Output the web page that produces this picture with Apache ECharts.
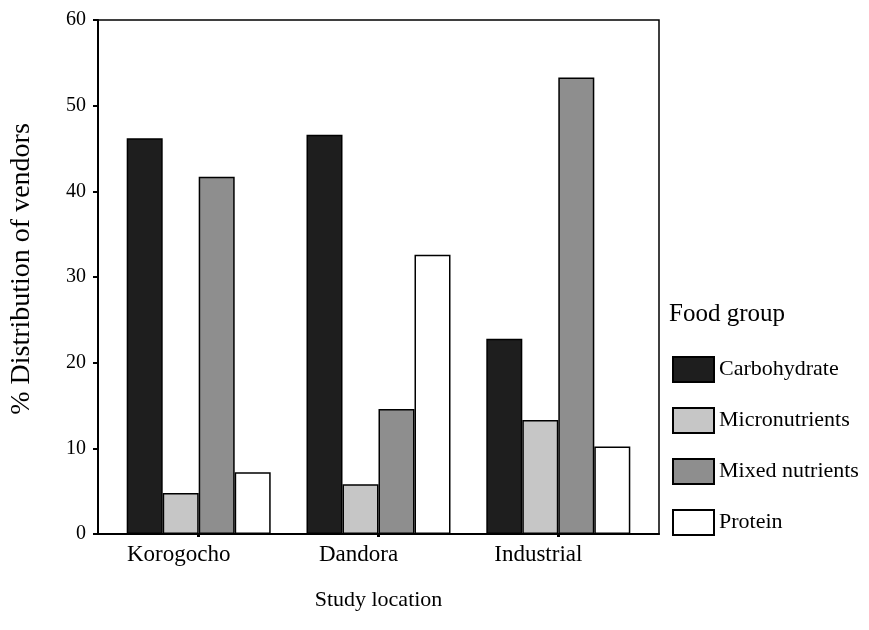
<!DOCTYPE html>
<html>
<head>
<meta charset="utf-8">
<script src="https://cdn.jsdelivr.net/npm/echarts@6/dist/echarts.min.js"></script>
<style>
  html, body { margin: 0; padding: 0; background: #fff; }
  #chart { width: 869px; height: 630px; }
</style>
</head>
<body>
<div id="chart"></div>
<script>
// 数据
var locations = ['Korogocho', 'Dandora', 'Industrial'];
var groupNames = ['Carbohydrate', 'Micronutrients', 'Mixed nutrients', 'Protein'];
var carbohydrate = [46.2, 46.6, 22.8];
var micronutrients = [4.8, 5.8, 13.3];
var mixedNutrients = [41.7, 14.6, 53.3];
var protein = [7.2, 32.6, 10.2];
var yTicks = [0, 10, 20, 30, 40, 50, 60];
var fills = ['#1e1e1e', '#c6c6c6', '#8e8e8e', '#ffffff'];

var font = '"Liberation Serif", "DejaVu Serif", serif';
var myChart = echarts.init(document.getElementById('chart'));

// 把每个地点放到数值轴上的 0,1,2
function toPoints(arr) {
  return arr.map(function (v, i) { return [i, v]; });
}
var allSeries = [carbohydrate, micronutrients, mixedNutrients, protein];

var option = {
  animation: false,
  textStyle: { fontFamily: font, color: '#000' },
  title: {
    text: 'Food group',
    left: 664,
    top: 297,
    textStyle: { fontFamily: font, fontSize: 25, fontWeight: 'normal', color: '#000' }
  },
  legend: {
    orient: 'vertical',
    left: 667,
    top: 351,
    itemWidth: 41,
    itemHeight: 25,
    itemGap: 24,
    data: groupNames.map(function (n) { return { name: n, icon: 'rect' }; }),
    textStyle: { fontFamily: font, fontSize: 22, color: '#000' }
  },
  grid: {
    left: 97, right: 210, top: 20, bottom: 96,
    show: true, borderColor: '#000', borderWidth: 1.5
  },
  xAxis: {
    type: 'value',
    min: -0.56,
    max: 2.56,
    name: 'Study location',
    nameLocation: 'middle',
    nameGap: 55,
    nameTextStyle: { fontFamily: font, fontSize: 22, color: '#000' },
    splitLine: { show: false },
    axisLine: { show: true, onZero: false, lineStyle: { color: '#000', width: 2 } },
    axisTick: { show: true, customValues: [0, 1, 2], length: 3, lineStyle: { color: '#000', width: 3 } },
    axisLabel: {
      customValues: [0, 1, 2],
      margin: 9,
      padding: [0, 40, 0, 0],
      fontFamily: font, fontSize: 23, color: '#000',
      formatter: function (v) { return locations[Math.round(v)]; }
    }
  },
  yAxis: {
    type: 'value',
    min: 0,
    max: 60,
    interval: 10,
    name: '% Distribution of vendors',
    nameLocation: 'middle',
    nameGap: 62,
    nameTextStyle: { fontFamily: font, fontSize: 28, color: '#000', padding: [0, 0, 0, 16] },
    splitLine: { show: false },
    axisLine: { show: true, onZero: false, lineStyle: { color: '#000', width: 2 } },
    axisTick: { show: true, length: 5, lineStyle: { color: '#000', width: 2 } },
    axisLabel: {
      margin: 12,
      fontFamily: font, fontSize: 20, color: '#000',
      formatter: function (v) { return yTicks.indexOf(v) >= 0 ? String(v) : ''; }
    }
  },
  series: allSeries.map(function (arr, idx) {
    return {
      name: groupNames[idx],
      type: 'bar',
      barWidth: 36,
      barGap: '0%',
      data: toPoints(arr),
      itemStyle: { color: fills[idx], borderColor: '#000', borderWidth: 1.5 }
    };
  })
};
myChart.setOption(option);
</script>
</body>
</html>
